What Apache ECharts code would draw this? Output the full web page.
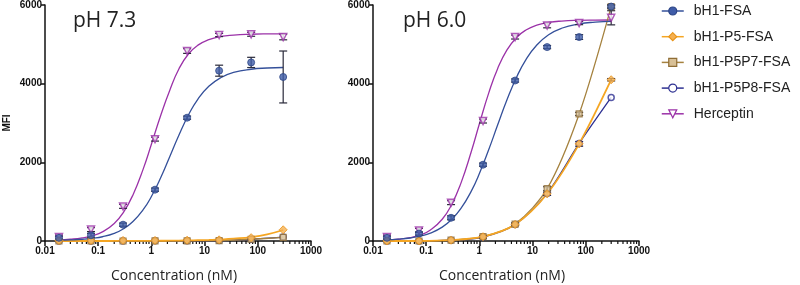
<!DOCTYPE html>
<html><head><meta charset="utf-8">
<script src="https://cdn.jsdelivr.net/npm/echarts@6/dist/echarts.min.js"></script>
<style>html,body{margin:0;padding:0;background:#fff}#c{width:800px;height:285px}</style>
</head><body><div id="c"></div>
<script>
// ---------- data ----------
const conc = [0.0183, 0.0732, 0.293, 1.17, 4.69, 18.75, 75, 300];
const fitConc = [0.0183,0.03,0.05,0.08,0.12,0.2,0.3,0.45,0.7,1,1.5,2.2,3.3,5,7.5,12,20,35,75,150,300];
const xTickLabels = ['0.01','0.1','1','10','100','1000'];
const yTicks = [0, 2000, 4000, 6000];
const seriesNames = ['bH1-FSA','bH1-P5-FSA','bH1-P5P7-FSA','bH1-P5P8-FSA','Herceptin'];
const panelTitles = ['pH 7.3','pH 6.0'];

// pH 7.3 measured points
const fsa73  = [80,145,415,1305,3135,4330,4540,4170];
const p5_73  = [10,10,15,15,20,30,85,285];
const p5p7_73 = [0,0,0,5,5,10,45,90];
const p5p8_73 = [0,0,0,5,5,10,45,100];
const her73  = [100,290,880,2590,4830,5237,5255,5185];
// pH 7.3 error (SD)
const fsa73Err = [40,50,40,40,40,140,130,660];
const her73Err = [50,50,50,50,60,40,50,70];
// pH 7.3 fitted curves (read at fitConc)
const fsa73Fit = [20,28,44,70,108,195,312,495,795,1130,1613,2135,2696,3210,3607,3932,4151,4284,4367,4398,4411];
const p5_73Fit = [0,0,0,0,0,1,1,2,3,4,6,8,11,15,20,28,40,60,100,170,280];
const her73Fit = [30,45,78,138,232,444,736,1172,1828,2459,3198,3822,4380,4760,4980,5120,5200,5235,5256,5265,5268];

// pH 6.0 measured points
const fsa60  = [80,190,590,1940,4080,4930,5185,5960];
const p5_60  = [0,0,20,110,420,1200,2470,4100];
const p5p7_60 = [0,0,20,110,430,1330,3230,5960];
const p5p8_60 = [0,0,20,100,420,1210,2480,3650];
const her60  = [100,270,975,3050,5185,5480,5540,5675];
// pH 6.0 error (SD)
const fsa60Err = [40,40,50,40,40,40,60,50];
const p5_60Err = [0,0,0,30,30,40,60,30];
const p5p7_60Err = [0,0,0,30,30,50,40,30];
const her60Err = [50,50,50,50,50,60,40,180];
// pH 6.0 fitted curves (read at fitConc)
const fsa60Fit = [30,46,76,128,200,353,546,828,1263,1716,2325,2947,3590,4165,4612,4984,5244,5409,5520,5564,5584];
const her60Fit = [30,45,84,160,279,554,924,1471,2261,2980,3767,4382,4857,5175,5364,5488,5556,5591,5610,5616,5619];

// ---------- styles ----------
const lineColors = ['#34509a','#f5a623','#a5823f','#2e3192','#9b32a8'];
const markerDefs = [
  {symbol:'circle', size:7, itemStyle:{color:'#3f5ca8', borderColor:'#2d4686', borderWidth:1}},
  {symbol:'diamond', size:8, itemStyle:{color:'#f5b050', borderColor:'#e8941a', borderWidth:1}},
  {symbol:'rect', size:6, itemStyle:{color:'#d8c096', borderColor:'#8f6d35', borderWidth:1.2}},
  {symbol:'circle', size:6, itemStyle:{color:'#ffffff', borderColor:'#2e3192', borderWidth:1.5}},
  {symbol:'triangle', size:7, rotate:180, itemStyle:{color:'#ffffff', borderColor:'#9b32a8', borderWidth:1.5}}
];
const errColor = '#2a2a3a';
const minorTicks = [];
[0.01,0.1,1,10,100].forEach(d => [2,3,4,5,6,7,8,9].forEach(m => minorTicks.push(+(d*m).toPrecision(3))));

const zip = (xs, ys) => xs.map((x,i)=>[x, ys[i]]);

function lineSeries(idx, panel, xs, ys, smooth){
  return {type:'line', name:seriesNames[idx], xAxisIndex:panel, yAxisIndex:panel,
    data: zip(xs, ys), showSymbol:false, symbol:markerDefs[idx].symbol,
    symbolRotate: markerDefs[idx].rotate || 0,
    smooth: smooth, lineStyle:{color:lineColors[idx], width: idx===1 ? 1.8 : 1.3},
    itemStyle:{color:lineColors[idx]}, z:2, silent:true};
}
function pointSeries(idx, panel, ys){
  const m = markerDefs[idx];
  return {type:'scatter', name:seriesNames[idx], xAxisIndex:panel, yAxisIndex:panel,
    data: zip(conc, ys), symbol:m.symbol, symbolSize:m.size, symbolRotate:m.rotate||0,
    itemStyle:m.itemStyle, z:4, silent:true};
}
function errSeries(panel, items){
  return {type:'custom', xAxisIndex:panel, yAxisIndex:panel, data: items, z:3, silent:true,
    renderItem:(params, api)=>{
      const x = api.value(0), y = api.value(1), e = api.value(2);
      const t = api.coord([x, y+e]); const b = api.coord([x, Math.max(y-e, 0)]);
      const w = 4, st = {stroke:errColor, lineWidth:1.2};
      return {type:'group', children:[
        {type:'line', shape:{x1:t[0],y1:t[1],x2:b[0],y2:b[1]}, style:st},
        {type:'line', shape:{x1:t[0]-w,y1:t[1],x2:t[0]+w,y2:t[1]}, style:st},
        {type:'line', shape:{x1:b[0]-w,y1:b[1],x2:b[0]+w,y2:b[1]}, style:st}
      ]};
    }};
}
function errItems(pairs){
  const out = [];
  pairs.forEach(([ys, es]) => conc.forEach((x,i)=>{ if (es[i] > 0) out.push([x, ys[i], es[i]]); }));
  return out;
}
function minorTickSeries(panel){
  return {type:'custom', xAxisIndex:panel, yAxisIndex:panel, data: minorTicks.map(v=>[v,0]), z:1, silent:true, clip:false,
    renderItem:(params, api)=>{
      const p = api.coord([api.value(0), 0]);
      return {type:'line', shape:{x1:p[0],y1:p[1],x2:p[0],y2:p[1]+3}, style:{stroke:'#111', lineWidth:1.2}};
    }};
}

const baseX = (i) => ({
  type:'log', logBase:10, min:0.01, max:1000, gridIndex:i,
  axisLine:{show:true, lineStyle:{color:'#111', width:1.5}},
  axisTick:{show:true, length:5, lineStyle:{color:'#111', width:1.5}},
  minorTick:{show:false}, splitLine:{show:false},
  axisLabel:{fontSize:10, fontWeight:'bold', fontFamily:'Liberation Sans', color:'#111', margin:5,
    formatter:(v)=> xTickLabels[Math.round(Math.log10(v))+2]},
  name:'Concentration (nM)', nameLocation:'middle', nameGap:28,
  nameTextStyle:{fontFamily:'Open Sans', fontSize:14, color:'#222', padding:[0,8,0,0]}
});
const baseY = (i) => ({
  type:'value', min:yTicks[0], max:yTicks[yTicks.length-1], interval:2000, gridIndex:i,
  axisLine:{show:true, lineStyle:{color:'#111', width:1.5}},
  axisTick:{show:true, length:4, lineStyle:{color:'#111', width:1.5}},
  splitLine:{show:false},
  axisLabel:{fontSize:10, fontWeight:'bold', fontFamily:'Liberation Sans', color:'#111', margin:3,
    formatter:(v)=> String(v)},
  name: i===0 ? 'MFI' : '', nameLocation:'middle', nameGap:33, nameRotate:90,
  nameTextStyle:{fontFamily:'Liberation Sans', fontSize:10, fontWeight:'bold', color:'#111'}
});

const series = [
  // left panel: pH 7.3
  lineSeries(4,0,fitConc,her73Fit,true),
  lineSeries(3,0,conc,p5p8_73,0.3),
  lineSeries(2,0,conc,p5p7_73,0.3),
  lineSeries(1,0,fitConc,p5_73Fit,true),
  lineSeries(0,0,fitConc,fsa73Fit,true),
  errSeries(0, errItems([[fsa73,fsa73Err],[her73,her73Err]])),
  pointSeries(4,0,her73), pointSeries(3,0,p5p8_73), pointSeries(2,0,p5p7_73), pointSeries(1,0,p5_73), pointSeries(0,0,fsa73),
  minorTickSeries(0),
  // right panel: pH 6.0
  lineSeries(4,1,fitConc,her60Fit,true),
  lineSeries(3,1,conc,p5p8_60,0.3),
  lineSeries(2,1,conc,p5p7_60,0.3),
  lineSeries(1,1,conc,p5_60,0.3),
  lineSeries(0,1,fitConc,fsa60Fit,true),
  errSeries(1, errItems([[fsa60,fsa60Err],[p5_60,p5_60Err],[p5p7_60,p5p7_60Err],[her60,her60Err]])),
  pointSeries(4,1,her60), pointSeries(3,1,p5p8_60), pointSeries(2,1,p5p7_60), pointSeries(1,1,p5_60), pointSeries(0,1,fsa60),
  minorTickSeries(1)
];

const chart = echarts.init(document.getElementById('c'), null, {renderer:'canvas'});
chart.setOption({
  animation:false,
  backgroundColor:'#ffffff',
  title: [
    {text:panelTitles[0], left:68, top:6, textStyle:{fontFamily:'Open Sans', fontSize:21, fontWeight:'normal', color:'#222'}},
    {text:panelTitles[1], left:398, top:6, textStyle:{fontFamily:'Open Sans', fontSize:21, fontWeight:'normal', color:'#222'}}
  ],
  grid: [
    {left:45, top:5, width:266, height:236, containLabel:false, outerBoundsMode:'none'},
    {left:373, top:5, width:266, height:236, containLabel:false, outerBoundsMode:'none'}
  ],
  xAxis:[baseX(0), baseX(1)],
  yAxis:[baseY(0), baseY(1)],
  legend:{
    orient:'vertical', left:656, top:-1, itemWidth:22, itemHeight:10, itemGap:11.7,
    selectedMode:false,
    data: seriesNames.map((n,i)=>({name:n, itemStyle:{color:markerDefs[i].itemStyle.color, borderColor:markerDefs[i].itemStyle.borderColor, borderWidth:1.2}})),
    lineStyle:{width:1.5, opacity:1},
    textStyle:{fontFamily:'Liberation Sans', fontSize:14, color:'#222', lineHeight:14, padding:[0,0,0,5]}
  },
  series: series
});
</script></body></html>
